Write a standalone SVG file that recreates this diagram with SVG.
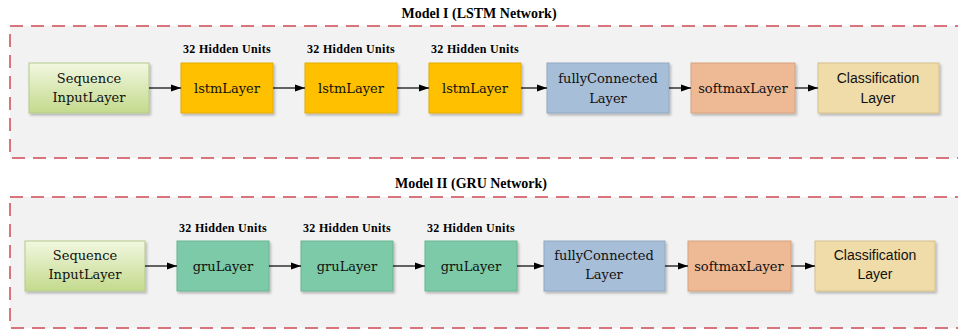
<svg xmlns="http://www.w3.org/2000/svg" width="958" height="331" viewBox="0 0 958 331">
<defs>
<linearGradient id="gIn" x1="0" y1="0" x2="0" y2="1">
<stop offset="0" stop-color="#F2F7E0"/>
<stop offset="1" stop-color="#C3DA8C"/>
</linearGradient>
<filter id="sh" x="-10%" y="-10%" width="130%" height="140%">
<feDropShadow dx="1.5" dy="2" stdDeviation="1.2" flood-color="#000" flood-opacity="0.25"/>
</filter>
<marker id="arr" markerWidth="10" markerHeight="8" refX="10" refY="4" orient="auto" markerUnits="userSpaceOnUse">
<path d="M0,0.5 L10,4 L0,7.5 Z" fill="#000"/>
</marker>
</defs>
<style>
.panel{fill:#F2F2F2;stroke:#D8747C;stroke-width:2;stroke-dasharray:13 8}
.title{font-family:'Liberation Serif','Times New Roman',Times,serif;font-weight:bold;font-size:14px;fill:#000;text-anchor:middle}
.hu{font-family:'Liberation Serif','Times New Roman',Times,serif;font-weight:bold;font-size:12px;letter-spacing:0.3px;fill:#000;text-anchor:middle}
.t{font-family:'DejaVu Serif',serif;font-size:13px;fill:#111;text-anchor:middle}
.s{font-family:'Liberation Sans',Arial,sans-serif;font-size:14px;fill:#111;text-anchor:middle}
.box{filter:url(#sh);stroke-width:1}
.in{fill:url(#gIn);stroke:#B5C98A}
.lstm{fill:#FFC000;stroke:#E3AC0A}
.gru{fill:#7BCAA7;stroke:#6AB393}
.fc{fill:#A7BED9;stroke:#90A8C2}
.sm{fill:#EEB995;stroke:#D7A27E}
.cl{fill:#F0DCA8;stroke:#D6C08A}
.conn line{stroke:#000;stroke-width:1.2;marker-end:url(#arr)}
</style>
<rect x="0" y="0" width="958" height="331" fill="#FFFFFF"/>

<g id="panel1">
<rect class="panel" x="10" y="26" width="960" height="132"/>
<text class="title" x="479" y="18">Model I (LSTM Network)</text>
</g>
<g id="panel2">
<rect class="panel" x="10" y="197" width="960" height="131"/>
<text class="title" x="471" y="188">Model II (GRU Network)</text>
</g>

<g id="m1-input"><rect class="box in" x="29" y="63" width="120" height="50"/><text class="t" x="89" y="83">Sequence</text><text class="t" x="89" y="102">InputLayer</text></g>
<g id="m1-lstm1"><text class="hu" x="227" y="53">32 Hidden Units</text><rect class="box lstm" x="181" y="63" width="92" height="50"/><text class="t" x="227" y="93">lstmLayer</text></g>
<g id="m1-lstm2"><text class="hu" x="351" y="53">32 Hidden Units</text><rect class="box lstm" x="305" y="63" width="92" height="50"/><text class="t" x="351" y="93">lstmLayer</text></g>
<g id="m1-lstm3"><text class="hu" x="475" y="53">32 Hidden Units</text><rect class="box lstm" x="429" y="63" width="92" height="50"/><text class="t" x="475" y="93">lstmLayer</text></g>
<g id="m1-fc"><rect class="box fc" x="547" y="63" width="122" height="50"/><text class="t" x="608" y="83">fullyConnected</text><text class="t" x="608" y="103">Layer</text></g>
<g id="m1-sm"><rect class="box sm" x="691" y="63" width="104" height="50"/><text class="t" x="743" y="93">softmaxLayer</text></g>
<g id="m1-cl"><rect class="box cl" x="818" y="63" width="121" height="50"/><text class="s" x="878" y="83">Classification</text><text class="s" x="878" y="103">Layer</text></g>

<g id="m2-input"><rect class="box in" x="25" y="241" width="120" height="50"/><text class="t" x="85" y="260">Sequence</text><text class="t" x="85" y="279">InputLayer</text></g>
<g id="m2-gru1"><text class="hu" x="223" y="232">32 Hidden Units</text><rect class="box gru" x="177" y="241" width="92" height="50"/><text class="t" x="223" y="271">gruLayer</text></g>
<g id="m2-gru2"><text class="hu" x="347" y="232">32 Hidden Units</text><rect class="box gru" x="301" y="241" width="92" height="50"/><text class="t" x="347" y="271">gruLayer</text></g>
<g id="m2-gru3"><text class="hu" x="471" y="232">32 Hidden Units</text><rect class="box gru" x="425" y="241" width="92" height="50"/><text class="t" x="471" y="271">gruLayer</text></g>
<g id="m2-fc"><rect class="box fc" x="544" y="241" width="121" height="50"/><text class="t" x="604" y="260">fullyConnected</text><text class="t" x="604" y="279">Layer</text></g>
<g id="m2-sm"><rect class="box sm" x="688" y="241" width="103" height="50"/><text class="t" x="739" y="271">softmaxLayer</text></g>
<g id="m2-cl"><rect class="box cl" x="815" y="241" width="120" height="50"/><text class="s" x="875" y="260">Classification</text><text class="s" x="875" y="279">Layer</text></g>

<g id="connectors" class="conn">
<line x1="149" y1="88" x2="181" y2="88"/>
<line x1="273" y1="88" x2="305" y2="88"/>
<line x1="397" y1="88" x2="429" y2="88"/>
<line x1="521" y1="88" x2="547" y2="88"/>
<line x1="669" y1="88" x2="691" y2="88"/>
<line x1="795" y1="88" x2="818" y2="88"/>
<line x1="145" y1="266" x2="177" y2="266"/>
<line x1="269" y1="266" x2="301" y2="266"/>
<line x1="393" y1="266" x2="425" y2="266"/>
<line x1="517" y1="266" x2="544" y2="266"/>
<line x1="665" y1="266" x2="688" y2="266"/>
<line x1="791" y1="266" x2="815" y2="266"/>
</g>
</svg>
